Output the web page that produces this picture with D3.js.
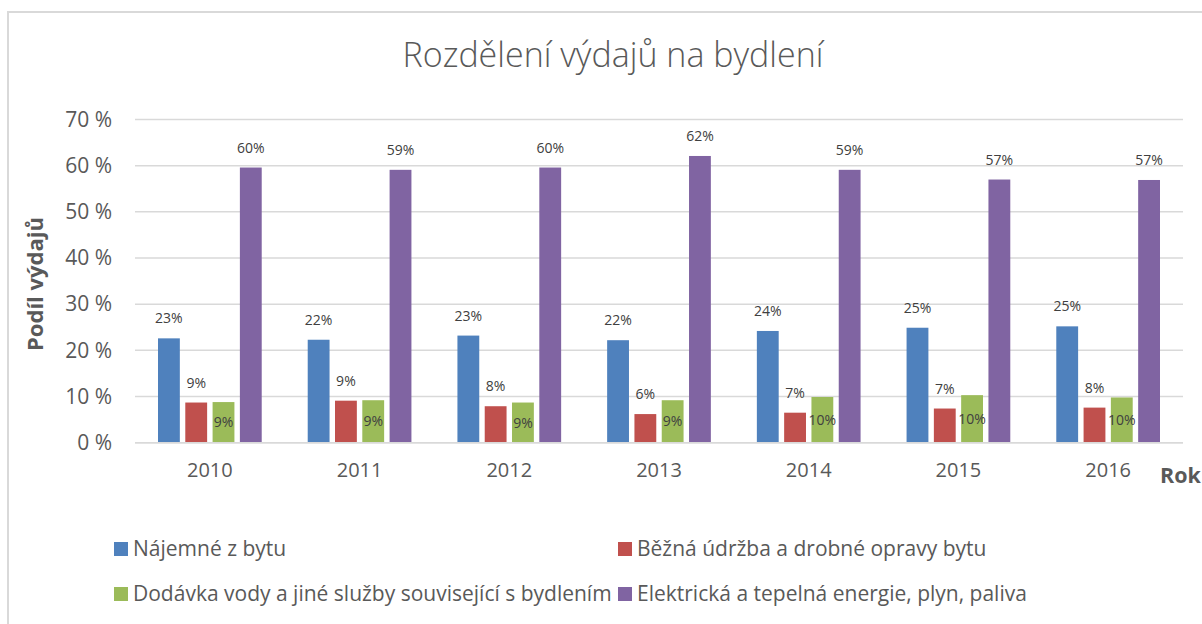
<!DOCTYPE html>
<html>
<head>
<meta charset="utf-8">
<script src="https://cdn.jsdelivr.net/npm/d3@7"></script>
<style>
  body { margin: 0; background: #fff; }
  svg text { font-family: "Open Sans", Lato, sans-serif; }
</style>
</head>
<body>
<svg id="chart"></svg>
<script>
// data
var years = ["2010", "2011", "2012", "2013", "2014", "2015", "2016"];
var seriesNames = [
  "Nájemné z bytu",
  "Běžná údržba a drobné opravy bytu",
  "Dodávka vody a jiné služby související s bydlením",
  "Elektrická a tepelná energie, plyn, paliva"
];
var najemne   = [22.6, 22.3, 23.2, 22.2, 24.2, 24.9, 25.2];
var udrzba    = [8.7, 9.1, 7.9, 6.2, 6.5, 7.4, 7.6];
var voda      = [8.8, 9.2, 8.7, 9.2, 9.9, 10.3, 9.8];
var energie   = [59.6, 59.1, 59.6, 62.1, 59.1, 57.0, 56.9];
var yTicks = [0, 10, 20, 30, 40, 50, 60, 70];
var colors = ["#4f81bd", "#c0504d", "#9bbb59", "#8064a2"];

var allSeries = [najemne, udrzba, voda, energie];

var screen = { width: 1202, height: 624 };
var svg = d3.select("#chart")
  .attr("width", screen.width)
  .attr("height", screen.height);

// chart frame
svg.append("path")
  .attr("d", "M8,624 V12 H1202")
  .attr("fill", "none")
  .attr("stroke", "#d9d9d9")
  .attr("stroke-width", 2);

var plot = { left: 135, right: 1183, top: 119.5, bottom: 442.7 };

var xScale = d3.scaleBand()
  .domain(years)
  .range([plot.left, plot.right])
  .paddingInner(0)
  .paddingOuter(0);

var inner = d3.scaleBand()
  .domain(d3.range(4))
  .range([23, xScale.bandwidth() - 23])
  .paddingInner(0.2);

var yScale = d3.scaleLinear()
  .domain([0, 70])
  .range([plot.bottom, plot.top]);

// grid
svg.append("g")
  .selectAll("line")
  .data(yTicks)
  .enter()
  .append("line")
  .attr("x1", plot.left)
  .attr("x2", plot.right)
  .attr("y1", function(d) { return yScale(d); })
  .attr("y2", function(d) { return yScale(d); })
  .attr("stroke", "#d9d9d9")
  .attr("stroke-width", 1.5);

// y axis labels
var yAxis = d3.axisLeft(yScale)
  .tickValues(yTicks)
  .tickSize(0)
  .tickPadding(23)
  .tickFormat(function(d) { return d + " %"; });
var gy = svg.append("g")
  .attr("transform", "translate(" + plot.left + ",0)")
  .call(yAxis);
gy.select(".domain").remove();
gy.selectAll("text")
  .attr("fill", "#595959")
  .style("font-size", "21px");

// x axis labels
var xAxis = d3.axisBottom(xScale).tickSize(0).tickPadding(20);
var gx = svg.append("g")
  .attr("transform", "translate(0," + plot.bottom + ")")
  .call(xAxis);
gx.select(".domain").remove();
gx.selectAll("text")
  .attr("fill", "#595959")
  .style("font-size", "20px");

// bars
var groups = svg.append("g")
  .selectAll("g")
  .data(years)
  .enter()
  .append("g")
  .attr("transform", function(d) { return "translate(" + xScale(d) + ",0)"; });

groups.each(function(year, yi) {
  var g = d3.select(this);
  allSeries.forEach(function(s, si) {
    var v = s[yi];
    g.append("rect")
      .attr("x", inner(si))
      .attr("width", inner.bandwidth())
      .attr("y", yScale(v))
      .attr("height", yScale(0) - yScale(v))
      .attr("fill", colors[si]);
    var ly = si == 2 ? (yScale(v) + yScale(0)) / 2 + 5 : yScale(v) - 15;
    g.append("text")
      .attr("x", inner(si) + inner.bandwidth() / 2)
      .attr("y", ly)
      .attr("text-anchor", "middle")
      .attr("fill", "#404040")
      .style("font-size", "14px")
      .text(Math.round(v) + "%");
  });
});

// axis line at zero
svg.append("line")
  .attr("x1", plot.left).attr("x2", plot.right)
  .attr("y1", yScale(0)).attr("y2", yScale(0))
  .attr("stroke", "#d9d9d9")
  .attr("stroke-width", 1.5);

// titles
svg.append("text")
  .attr("x", 613)
  .attr("y", 67)
  .attr("text-anchor", "middle")
  .attr("fill", "#595959")
  .style("font-size", "34px")
  .style("font-weight", 300)
  .text("Rozdělení výdajů na bydlení");

svg.append("text")
  .attr("transform", "translate(43,284) rotate(-90)")
  .attr("text-anchor", "middle")
  .attr("fill", "#595959")
  .style("font-size", "22px")
  .style("font-weight", "bold")
  .text("Podíl výdajů");

svg.append("text")
  .attr("x", 1160)
  .attr("y", 483)
  .attr("fill", "#595959")
  .style("font-size", "21.5px")
  .style("font-weight", "bold")
  .text("Rok");

// legend
var legendPos = [[114, 549], [618, 549], [114, 594], [618, 594]];
var legend = svg.append("g")
  .selectAll("g")
  .data(seriesNames)
  .enter()
  .append("g")
  .attr("transform", function(d, i) { return "translate(" + legendPos[i][0] + "," + legendPos[i][1] + ")"; });
legend.append("rect")
  .attr("x", 0).attr("y", -7)
  .attr("width", 14).attr("height", 14)
  .attr("fill", function(d, i) { return colors[i]; });
legend.append("text")
  .attr("x", 19)
  .attr("y", 7)
  .attr("fill", "#595959")
  .style("font-size", "21px")
  .text(function(d) { return d; });
</script>
</body>
</html>
